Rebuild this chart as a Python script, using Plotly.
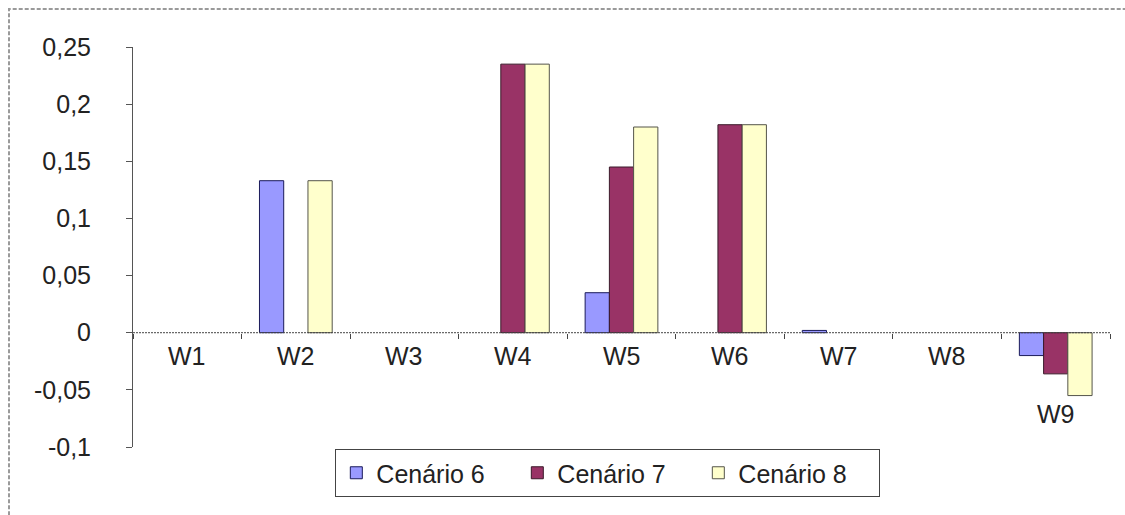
import plotly.graph_objects as go

# Categories and series values
categories = ["W1", "W2", "W3", "W4", "W5", "W6", "W7", "W8", "W9"]
cenario_6 = [0, 0.133, 0, 0, 0.035, 0, 0.002, 0, -0.020]
cenario_7 = [0, 0, 0, 0.235, 0.145, 0.182, 0, 0, -0.036]
cenario_8 = [0, 0.133, 0, 0.235, 0.180, 0.182, 0, 0, -0.055]
series_names = ["Cenário 6", "Cenário 7", "Cenário 8"]

y_tick_vals = [-0.1, -0.05, 0, 0.05, 0.1, 0.15, 0.2, 0.25]
y_tick_text = ["-0,1", "-0,05", "0", "0,05", "0,1", "0,15", "0,2", "0,25"]

fills = ["#9999FF", "#993366", "#FFFFCC"]
edges = ["#1a1a5a", "#3a1a2a", "#55554a"]

FONT = "Liberation Sans, Arial, sans-serif"
FS = 25
TXT = "#222222"
y_min, y_max = -0.1, 0.25

fig = go.Figure()
for name, vals, fc, ec in zip(series_names, [cenario_6, cenario_7, cenario_8], fills, edges):
    fig.add_trace(go.Bar(
        # zero values leave an empty slot instead of a flat outlined bar
        x=categories, y=[v if v != 0 else None for v in vals], name=name,
        marker=dict(color=fc, line=dict(color=ec, width=1)),
    ))

# Category labels sit just under the axis, or under the lowest bar when bars dip below zero
for i, cat in enumerate(categories):
    low = min(0, cenario_6[i], cenario_7[i], cenario_8[i])
    fig.add_annotation(
        x=cat, y=low, xref="x", yref="y", text=cat, showarrow=False,
        yanchor="middle", yshift=-23 if low == 0 else -18,
        font=dict(family=FONT, size=FS, color=TXT),
    )

# Dotted zero axis line
fig.add_shape(type="line", xref="paper", yref="y", x0=0, x1=1, y0=0, y1=0,
              line=dict(color="#444444", width=1, dash="2px,1px"))

# Dashed frame around the chart area
fig.add_shape(type="rect", xref="paper", yref="paper",
              x0=(9 - 133) / 977, x1=1.05, y0=-0.3, y1=(447 - 9) / 400,
              line=dict(color="#9a9a9a", width=2, dash="4px,2px"),
              fillcolor="rgba(0,0,0,0)", layer="below")

fig.update_layout(
    width=1125, height=515,
    margin=dict(l=133, r=15, t=47, b=68),
    paper_bgcolor="white", plot_bgcolor="white",
    barmode="group", bargap=0.33, bargroupgap=0,
    font=dict(family=FONT, size=FS, color=TXT),
    showlegend=True,
    legend=dict(
        orientation="h", x=0.486, xanchor="center", y=-0.005, yanchor="top",
        bgcolor="white", bordercolor="#444444", borderwidth=1,
        entrywidth=136, entrywidthmode="pixels",
        font=dict(family=FONT, size=FS, color=TXT),
        itemclick=False, itemdoubleclick=False,
    ),
    xaxis=dict(
        type="category", showgrid=False, zeroline=False,
        anchor="free", position=(0 - y_min) / (y_max - y_min),
        showline=False, ticks="outside", tickson="boundaries",
        ticklen=5, tickcolor="#444444", showticklabels=False,
    ),
    yaxis=dict(
        range=[y_min, y_max], showgrid=False, zeroline=False,
        showline=True, linecolor="#555555", linewidth=1,
        ticks="outside", ticklen=6, tickcolor="#555555",
        tickvals=y_tick_vals, ticktext=y_tick_text,
        ticklabelstandoff=30,
        tickfont=dict(family=FONT, size=FS, color=TXT),
    ),
)

fig.write_html("out.html")
